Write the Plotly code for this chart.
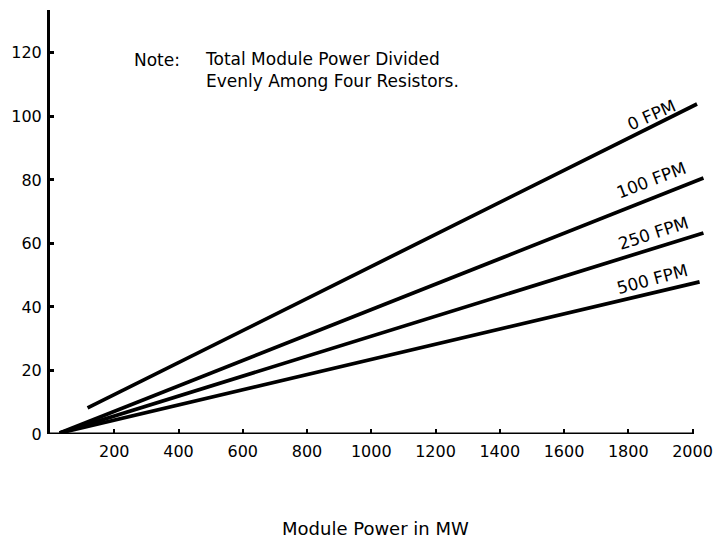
import plotly.graph_objects as go

# Data
series_names = ["0 FPM", "100 FPM", "250 FPM", "500 FPM"]
x_start = [117, 30, 30, 30]
y_start = [8.2, 0.3, 0.3, 0.3]
x_end = [2014, 2034, 2034, 2022]
y_end = [103.9, 80.6, 63.3, 47.9]

label_x = [1872, 1872, 1879, 1876]
label_y = [100.5, 80.0, 63.3, 48.8]
label_angle = [-24, -21, -18, -15]

x_ticks = [200, 400, 600, 800, 1000, 1200, 1400, 1600, 1800, 2000]
y_ticks = [0, 20, 40, 60, 80, 100, 120]

note_label = "Note:"
note_body = "Total Module Power Divided<br>Evenly Among Four Resistors."
note_label_pos = (254, 117.8)
note_body_pos = (475, 114.5)

FONT = "DejaVu Sans"

fig = go.Figure()
for i, name in enumerate(series_names):
    fig.add_trace(go.Scatter(
        x=[x_start[i], x_end[i]], y=[y_start[i], y_end[i]],
        mode="lines", name=name,
        line=dict(color="black", width=3.7),
        showlegend=False, hoverinfo="skip",
    ))
    fig.add_annotation(
        x=label_x[i], y=label_y[i], text=name, showarrow=False,
        textangle=label_angle[i], font=dict(family=FONT, size=17, color="black"),
        xanchor="center", yanchor="middle",
    )

# x-axis line ending at 2000
fig.add_shape(type="line", xref="x", yref="y", x0=0, x1=2000, y0=0, y1=0,
              line=dict(color="black", width=3))

fig.add_annotation(x=note_label_pos[0], y=note_label_pos[1], text=note_label,
                   showarrow=False, xanchor="left", yanchor="middle",
                   font=dict(family=FONT, size=17, color="black"))
fig.add_annotation(x=note_body_pos[0], y=note_body_pos[1], text=note_body,
                   showarrow=False, xanchor="left", yanchor="middle", align="left",
                   font=dict(family=FONT, size=17, color="black"))

fig.add_annotation(xref="paper", yref="paper", x=0.49, y=-0.224,
                   text="Module Power in MW", showarrow=False,
                   xanchor="center", yanchor="middle",
                   font=dict(family=FONT, size=18, color="black"))

fig.update_layout(
    width=720, height=542,
    margin=dict(l=50, r=5, t=10, b=108),
    paper_bgcolor="white", plot_bgcolor="white",
    xaxis=dict(range=[0, 2070], tickvals=x_ticks, ticks="inside", ticklen=5,
               tickwidth=2, tickcolor="black", showline=False, showgrid=False,
               zeroline=False, ticklabelstandoff=6, automargin=False,
               tickfont=dict(family=FONT, size=16, color="black")),
    yaxis=dict(range=[0, 133.5], tickvals=y_ticks, ticks="inside", ticklen=4,
               tickwidth=3, tickcolor="black", showline=True, linewidth=3,
               linecolor="black", showgrid=False, zeroline=False,
               ticklabelstandoff=2, automargin=False,
               tickfont=dict(family=FONT, size=16, color="black")),
)

fig.write_html("out.html", config={"displayModeBar": False},
               post_script="document.body.style.margin='0px';document.body.style.overflow='hidden';")
